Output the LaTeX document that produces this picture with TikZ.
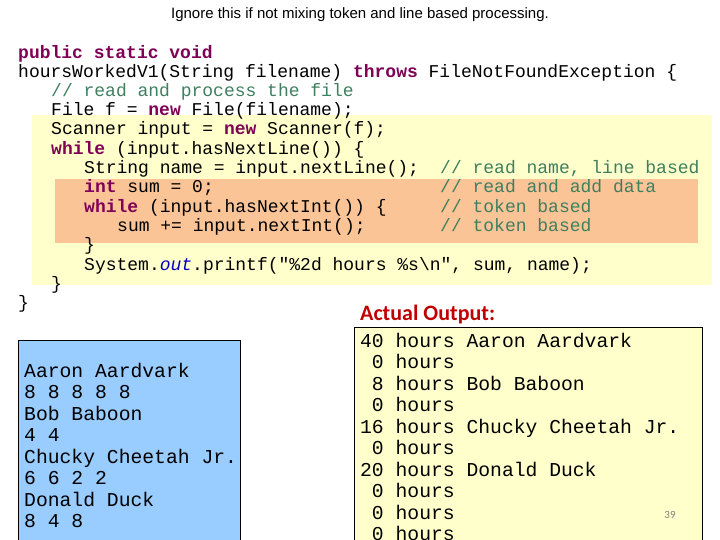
\documentclass[tikz,border=0pt]{standalone}
\usepackage{fontspec}
\setmainfont{Liberation Sans}
\setmonofont{Liberation Mono}
\newfontfamily\slidefont{Carlito}
\definecolor{kwcol}{HTML}{7F0055}
\definecolor{cmcol}{HTML}{3F7F5F}
\definecolor{outcol}{HTML}{0000C0}
\definecolor{hilite}{HTML}{FFFFCC}
\definecolor{tokhl}{HTML}{FBC497}
\definecolor{inbox}{HTML}{99CCFF}
\definecolor{titlered}{HTML}{C00000}
\newcommand{\kw}[1]{\textcolor{kwcol}{\bfseries #1}}
\newcommand{\cm}[1]{\textcolor{cmcol}{#1}}
\begin{document}
\begin{tikzpicture}[x=1pt,y=-1pt]
  \tikzstyle{code line}=[anchor=base west,inner sep=0pt,font=\ttfamily\fontsize{18}{19}\selectfont]
  \tikzstyle{data line}=[anchor=base west,inner sep=0pt,font=\ttfamily\fontsize{19.7}{21}\selectfont]
  \useasboundingbox (0,0) rectangle (720,540);
  \clip (0,0) rectangle (720,540);

  % Ueberschrift
  \node (title) at (360,15) [font=\fontsize{15}{17}\selectfont] {Ignore this if not mixing token and line based processing.};

  % Hintergrund der Schleife
  \fill[hilite] (32,115) rectangle (712,285);
  \fill[tokhl] (55,179) rectangle (698,243);

  % Quelltext
  \node (c1) [code line] at (18,59) {\kw{public static void}};
  \node (c2) [code line] at (18,78) {hoursWorkedV1(String filename) \kw{throws} FileNotFoundException \{};
  \node (c3) [code line] at (51,97) {\cm{// read and process the file}};
  \node (c4) [code line] at (51,116) {File f = \kw{new} File(filename);};
  \node (c5) [code line] at (51,135) {Scanner input = \kw{new} Scanner(f);};
  \node (c6) [code line] at (51,155) {\kw{while} (input.hasNextLine()) \{};
  \node (c7) [code line] at (84,174) {String name = input.nextLine();};
  \node (c8) [code line] at (84,193) {\kw{int} sum = 0;};
  \node (c9) [code line] at (84,212) {\kw{while} (input.hasNextInt()) \{};
  \node (c10) [code line] at (117,231) {sum += input.nextInt();};
  \node (c11) [code line] at (84,250) {\}};
  \node (c12) [code line] at (84,270) {System.\textcolor{outcol}{\itshape out}.printf("\%2d hours \%s\textbackslash n", sum, name);};
  \node (c13) [code line] at (51,289) {\}};
  \node (c14) [code line] at (18,308) {\}};

  % Kommentare
  \node (k7) [code line] at (440,174) {\cm{// read name, line based}};
  \node (k8) [code line] at (440,193) {\cm{// read and add data}};
  \node (k9) [code line] at (440,212) {\cm{// token based}};
  \node (k10) [code line] at (440,231) {\cm{// token based}};

  % Eingabedatei
  \draw[fill=inbox] (18,340) rectangle (240,560);
  \foreach \t [count=\i] in {Aaron Aardvark,8 8 8 8 8,Bob Baboon,4 4,Chucky Cheetah Jr.,6 6 2 2,Donald Duck,8 4 8}
    \node (in\i) [data line] at (24,377+21.5*\i-21.5) {\t};

  % Ausgabe
  \node (outtitle) [anchor=base west,inner sep=0pt,text=titlered,font=\slidefont\bfseries\fontsize{22}{24}\selectfont] at (360,320) {Actual Output:};
  \draw[fill=hilite] (354,327) rectangle (702,560);
  \foreach \h/\t [count=\i] in {40/Aaron Aardvark, 0/, 8/Bob Baboon, 0/,16/Chucky Cheetah Jr., 0/,20/Donald Duck, 0/, 0/, 0/}
    \node (out\i) [data line] at (360,347+21.5*\i-21.5) {\makebox[23.6pt][r]{\h} hours \t};

  % Seitenzahl
  \node (page) at (670,515) [text=gray,font=\slidefont\fontsize{11}{12}\selectfont] {39};
\end{tikzpicture}
\end{document}
